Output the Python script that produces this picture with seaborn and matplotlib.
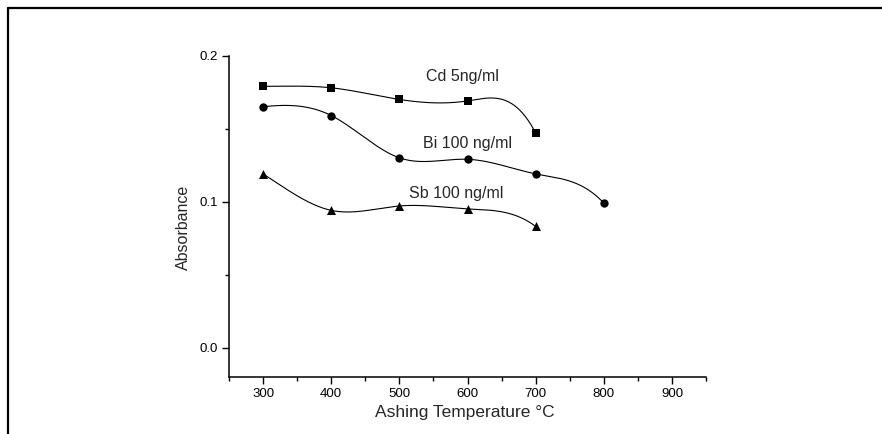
import numpy as np
import pandas as pd
import matplotlib
matplotlib.use("Agg")
import matplotlib.pyplot as plt
import seaborn as sns
from matplotlib.lines import Line2D
from matplotlib.ticker import MultipleLocator

# ---- data ----
temps_cd = [300, 400, 500, 600, 700]
abs_cd = [0.179, 0.178, 0.170, 0.169, 0.147]
temps_bi = [300, 400, 500, 600, 700, 800]
abs_bi = [0.165, 0.159, 0.130, 0.129, 0.119, 0.099]
temps_sb = [300, 400, 500, 600, 700]
abs_sb = [0.119, 0.094, 0.097, 0.095, 0.083]
series_labels = ["Cd 5ng/ml", "Bi 100 ng/ml", "Sb 100 ng/ml"]
x_ticks = [300, 400, 500, 600, 700, 800, 900]
y_ticks = [0.0, 0.1, 0.2]


def clamped_spline(x, y, d0, dn, n=300):
    """Cubic spline through the points with given end slopes (curve styling)."""
    x = np.asarray(x, float)
    y = np.asarray(y, float)
    m = len(x)
    h = np.diff(x)
    A = np.zeros((m, m))
    b = np.zeros(m)
    A[0, 0] = 2 * h[0]
    A[0, 1] = h[0]
    b[0] = 6 * ((y[1] - y[0]) / h[0] - d0)
    A[-1, -2] = h[-1]
    A[-1, -1] = 2 * h[-1]
    b[-1] = 6 * (dn - (y[-1] - y[-2]) / h[-1])
    for i in range(1, m - 1):
        A[i, i - 1] = h[i - 1]
        A[i, i] = 2 * (h[i - 1] + h[i])
        A[i, i + 1] = h[i]
        b[i] = 6 * ((y[i + 1] - y[i]) / h[i] - (y[i] - y[i - 1]) / h[i - 1])
    M = np.linalg.solve(A, b)
    xs = np.linspace(x[0], x[-1], n)
    idx = np.clip(np.searchsorted(x, xs) - 1, 0, m - 2)
    x0, x1 = x[idx], x[idx + 1]
    hh = x1 - x0
    t0 = x1 - xs
    t1 = xs - x0
    ys = (M[idx] * t0 ** 3 / (6 * hh) + M[idx + 1] * t1 ** 3 / (6 * hh)
          + (y[idx] / hh - M[idx] * hh / 6) * t0
          + (y[idx + 1] / hh - M[idx + 1] * hh / 6) * t1)
    return xs, ys


sns.set_style("ticks")
plt.rcParams["font.family"] = ["Liberation Sans", "DejaVu Sans"]

fig = plt.figure(figsize=(8.82, 4.34), dpi=100)
ax = fig.add_axes([0.2596, 0.132, 0.5409, 0.7397])

# (x, y, marker, marker size, start slope, end slope)
series = [
    (temps_cd, abs_cd, "s", 5.5, 0.0, -0.0009),
    (temps_bi, abs_bi, "o", 6.0, 0.00005, -0.0005),
    (temps_sb, abs_sb, "^", 6.5, -0.0003, -0.00035),
]
for (tx, ty, mk, ms, d0, dn), lab in zip(series, series_labels):
    xs, ys = clamped_spline(tx, ty, d0, dn)
    sns.lineplot(x=xs, y=ys, ax=ax, color="black", linewidth=0.8, sort=False)
    df = pd.DataFrame({"t": tx, "a": ty})
    sns.scatterplot(data=df, x="t", y="a", ax=ax, marker=mk, s=ms ** 2,
                    color="black", edgecolor="black", linewidth=0, zorder=3)

ax.text(592, 0.1854, series_labels[0], ha="center", va="center", fontsize=11.5)
ax.text(600, 0.140, series_labels[1], ha="center", va="center", fontsize=11.5)
ax.text(583, 0.1056, series_labels[2], ha="center", va="center", fontsize=11.5)

ax.set_xlim(250, 950)
ax.set_ylim(-0.02, 0.2)
ax.set_xticks(x_ticks)
ax.set_xticklabels([str(v) for v in x_ticks])
ax.set_yticks(y_ticks)
ax.set_yticklabels([f"{v:.1f}" for v in y_ticks])
ax.xaxis.set_minor_locator(MultipleLocator(50))
ax.yaxis.set_minor_locator(MultipleLocator(0.05))
ax.tick_params(axis="both", which="major", direction="out", length=5, width=1,
               labelsize=9.5, pad=3, color="black", labelcolor="black")
ax.tick_params(axis="both", which="minor", direction="out", length=3, width=1,
               color="black")
for s in ["top", "right"]:
    ax.spines[s].set_visible(False)
for s in ["left", "bottom"]:
    ax.spines[s].set_linewidth(1.1)
    ax.spines[s].set_color("black")

ax.set_xlabel("Ashing Temperature °C", fontsize=12.5)
ax.set_ylabel("Absorbance", fontsize=11.5)
ax.xaxis.label.set_va("center")
ax.yaxis.label.set_va("center")
ax.xaxis.set_label_coords(0.494, -0.113)
ax.yaxis.set_label_coords(-0.096, 0.466)

# page frame (top and left border lines of the scanned figure)
fig.add_artist(Line2D([8 / 882, 1.0], [1 - 8 / 434, 1 - 8 / 434],
                      transform=fig.transFigure, color="black", linewidth=1.6))
fig.add_artist(Line2D([8 / 882, 8 / 882], [0.0, 1 - 8 / 434],
                      transform=fig.transFigure, color="black", linewidth=1.6))

fig.savefig("out.png", dpi=100, facecolor="white")
